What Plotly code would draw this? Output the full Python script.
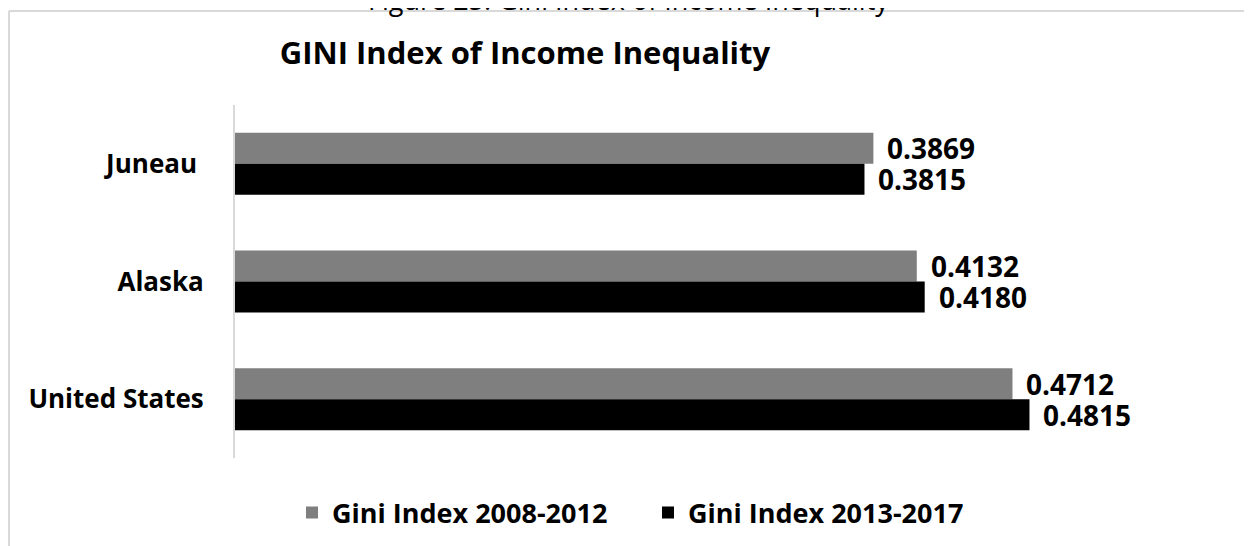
import plotly.graph_objects as go

categories = ["Juneau ", "Alaska", "United States"]
gini_2008_2012 = [0.3869, 0.4132, 0.4712]
gini_2013_2017 = [0.3815, 0.4180, 0.4815]
series_names = ["Gini Index 2008-2012", "Gini Index 2013-2017"]
series_colors = ["#7f7f7f", "#000000"]

# page has an 8px body margin; figure sized to fit the 1252x546 window
OFF = 8
W, H = 1252 - OFF, 546 - OFF
L = 235 - OFF
T = 105 - OFF
B = H - (458 - OFF)
R = W - (1225 - OFF)
plot_w = W - L - R
plot_h = H - T - B

def px_x(px):  # page pixel -> paper x
    return (px - OFF - L) / plot_w

def px_y(py):  # page pixel -> paper y
    return (H - B - (py - OFF)) / plot_h

fig = go.Figure()
for name, vals, col in zip(series_names, [gini_2008_2012, gini_2013_2017], series_colors):
    fig.add_trace(go.Bar(
        y=categories, x=vals, name=name, orientation="h",
        marker=dict(color=col, line=dict(width=0)),
        hoverinfo="x+y",
    ))

label_font = dict(family="Open Sans", size=28, color="#000000")
for vals, shift in [(gini_2008_2012, 15.5), (gini_2013_2017, -15.5)]:
    for c, v in zip(categories, vals):
        fig.add_annotation(
            x=v, y=c, xref="x", yref="y", text=f"<b>{v:.4f}</b>",
            showarrow=False, xanchor="left", yanchor="middle",
            xshift=13, yshift=shift, font=label_font, borderpad=0,
        )

# caption (cut off at top)
fig.add_annotation(
    x=px_x(628), y=px_y(20), xref="paper", yref="paper",
    text="Figure 25: Gini Index of Income Inequality",
    showarrow=False, xanchor="center", yanchor="bottom",
    font=dict(family="Open Sans", size=27, color="#000000"),
)

# chart border (left and top edges visible)
border = dict(color="#d9d9d9", width=2)
fig.add_shape(type="line", xref="paper", yref="paper",
              x0=px_x(9), x1=px_x(9), y0=px_y(600), y1=px_y(11), line=border)
fig.add_shape(type="line", xref="paper", yref="paper",
              x0=px_x(9), x1=px_x(1300), y0=px_y(11), y1=px_y(11), line=border)

fig.update_layout(
    width=W, height=H,
    margin=dict(l=L, r=R, t=T, b=B, autoexpand=False),
    paper_bgcolor="#ffffff", plot_bgcolor="#ffffff",
    barmode="group", bargap=0.473, bargroupgap=0,
    title=dict(
        text="<b>GINI Index of Income Inequality</b>",
        font=dict(family="Open Sans", size=31, color="#000000"),
        xref="container", yref="container",
        x=(525 - OFF) / W, y=1 - (53 - OFF) / H, xanchor="center", yanchor="middle",
    ),
    xaxis=dict(range=[0, 0.6], showgrid=False, zeroline=False, showline=False,
               showticklabels=False, ticks=""),
    yaxis=dict(autorange="reversed", showgrid=False, zeroline=False,
               showline=True, linecolor="#d9d9d9", linewidth=2,
               ticks="", ticklabelstandoff=24,
               tickfont=dict(family="Open Sans", size=26, color="#000000", weight="bold")),
    legend=dict(
        orientation="h", x=px_x(292), y=px_y(513), xanchor="left", yanchor="middle",
        font=dict(family="Open Sans", size=27, color="#000000", weight="bold"),
        entrywidth=311, entrywidthmode="pixels", bgcolor="rgba(0,0,0,0)",
        traceorder="normal",
    ),
    showlegend=True,
)

fig.write_html("out.html")
